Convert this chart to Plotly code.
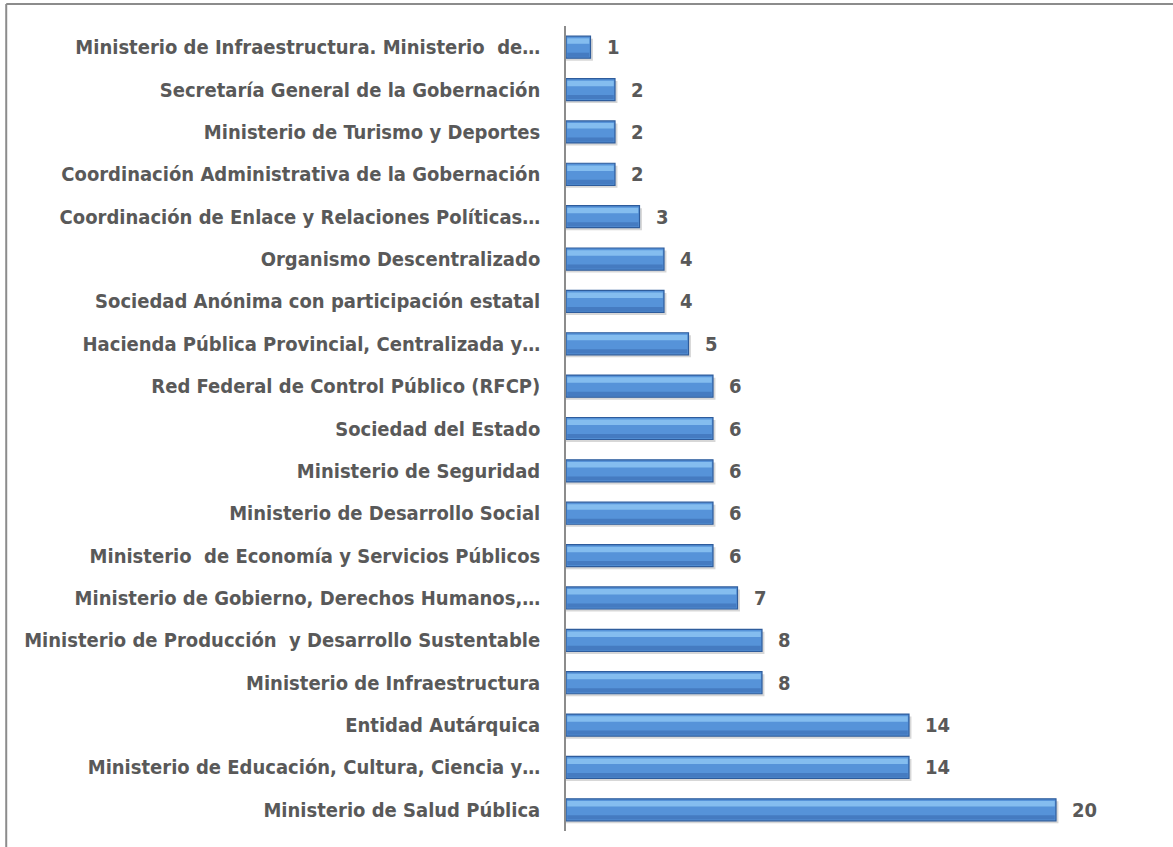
import plotly.graph_objects as go

categories = [
    "Ministerio de Infraestructura. Ministerio  de…",
    "Secretaría General de la Gobernación",
    "Ministerio de Turismo y Deportes",
    "Coordinación Administrativa de la Gobernación",
    "Coordinación de Enlace y Relaciones Políticas…",
    "Organismo Descentralizado",
    "Sociedad Anónima con participación estatal",
    "Hacienda Pública Provincial, Centralizada y…",
    "Red Federal de Control Público (RFCP)",
    "Sociedad del Estado",
    "Ministerio de Seguridad",
    "Ministerio de Desarrollo Social",
    "Ministerio  de Economía y Servicios Públicos",
    "Ministerio de Gobierno, Derechos Humanos,…",
    "Ministerio de Producción  y Desarrollo Sustentable",
    "Ministerio de Infraestructura",
    "Entidad Autárquica",
    "Ministerio de Educación, Cultura, Ciencia y…",
    "Ministerio de Salud Pública",
]
values = [1, 2, 2, 2, 3, 4, 4, 5, 6, 6, 6, 6, 6, 7, 8, 8, 14, 14, 20]

FONT = "DejaVu Sans Condensed, Liberation Sans, Arial, sans-serif"
GRAY = "#595959"

fig = go.Figure()

# soft shadow
fig.add_trace(go.Bar(
    y=categories, x=[v + 0.1 for v in values], orientation="h",
    width=0.52, offset=-0.2,
    marker=dict(color="rgba(110,110,110,0.28)", line=dict(width=0)),
    hoverinfo="skip", showlegend=False,
))
# main bar
fig.add_trace(go.Bar(
    y=categories, x=values, orientation="h",
    width=0.52, offset=-0.26,
    marker=dict(color="#5693D9", line=dict(color="#2E5C9C", width=1.2)),
    showlegend=False,
))
# highlight stripe (upper)
fig.add_trace(go.Bar(
    y=categories, x=[v - 0.1 for v in values], orientation="h",
    width=0.13, offset=-0.21, base=0.05,
    marker=dict(color="rgba(140,196,242,0.85)", line=dict(width=0)),
    hoverinfo="skip", showlegend=False,
))
# darker lower stripe
fig.add_trace(go.Bar(
    y=categories, x=[v - 0.1 for v in values], orientation="h",
    width=0.1, offset=0.13, base=0.05,
    marker=dict(color="rgba(62,112,182,0.7)", line=dict(width=0)),
    hoverinfo="skip", showlegend=False,
))

annotations = [
    dict(x=v, y=c, text=str(v), xref="x", yref="y", xanchor="left",
         showarrow=False, xshift=14,
         font=dict(family=FONT, size=20, color=GRAY, weight="bold"))
    for c, v in zip(categories, values)
]

fig.update_layout(
    width=1173, height=847,
    margin=dict(l=566, r=19, t=26, b=16),
    paper_bgcolor="white", plot_bgcolor="white",
    barmode="overlay",
    annotations=annotations,
    xaxis=dict(range=[0, 24], visible=False, fixedrange=True),
    yaxis=dict(
        autorange="reversed", showline=True, linecolor="#8C8C8C", linewidth=1.5,
        ticks="", showgrid=False, ticklabelstandoff=20, fixedrange=True,
        tickfont=dict(family=FONT, size=20, color=GRAY, weight="bold"),
    ),
    shapes=[
        dict(type="line", xref="paper", yref="paper", x0=-0.952, x1=1.1,
             y0=1.0273, y1=1.0273, line=dict(color="#8C8C8C", width=2)),
        dict(type="line", xref="paper", yref="paper", x0=-0.952, x1=-0.952,
             y0=-0.1, y1=1.0273, line=dict(color="#8C8C8C", width=2)),
    ],
)

fig.write_html("out.html", config={"displayModeBar": False},
               post_script="document.body.style.margin='0';")
